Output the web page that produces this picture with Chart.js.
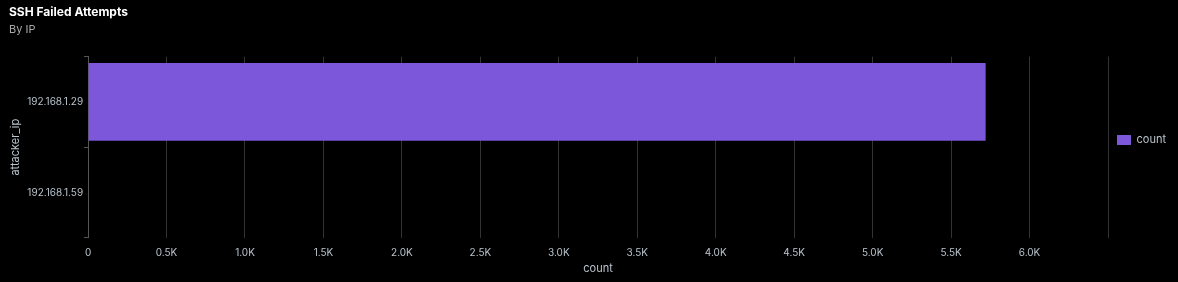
<!DOCTYPE html>
<html>
<head>
<meta charset="utf-8">
<script src="https://cdn.jsdelivr.net/npm/chart.js@4"></script>
<style>
  body { margin: 0; background: #000; }
  #wrap { width: 1178px; height: 282px; }
</style>
</head>
<body>
<div id="wrap"><canvas id="myChart"></canvas></div>
<script>
const categories = ['192.168.1.29', '192.168.1.59'];
const countValues = [5720, 0];
const seriesLabel = 'count';

const textColor = '#b9c3cc';
const gridColor = '#333333';

function formatK(value) {
  if (value === 0) return '0';
  if (value >= 6500) return ''; // dernière ligne sans libellé
  return (value / 1000).toFixed(1) + 'K';
}

new Chart(document.getElementById('myChart'), {
  type: 'bar',
  data: {
    labels: categories,
    datasets: [{
      label: seriesLabel,
      data: countValues,
      backgroundColor: '#7c57d9',
      borderWidth: 0,
      categoryPercentage: 1,
      barPercentage: 0.86
    }]
  },
  options: {
    indexAxis: 'y',
    responsive: true,
    maintainAspectRatio: false,
    animation: false,
    layout: { padding: { left: 9, right: 2, bottom: 2 } },
    font: { family: 'Inter', size: 11 },
    scales: {
      x: {
        min: 0,
        max: 6500,
        ticks: {
          stepSize: 500,
          color: textColor,
          font: { family: 'Inter', size: 10 },
          padding: 9,
          callback: formatK
        },
        grid: { color: gridColor, drawTicks: false },
        border: { display: false },
        title: {
          display: true,
          text: 'count',
          color: textColor,
          font: { family: 'Inter', size: 11, lineHeight: 0.2 },
          padding: { top: 0, bottom: 10 }
        }
      },
      y: {
        ticks: {
          color: textColor,
          font: { family: 'Inter', size: 10 },
          padding: 1
        },
        grid: { drawOnChartArea: false, color: '#555555', tickLength: 4 },
        border: { display: true, color: '#555555' },
        title: {
          display: true,
          text: 'attacker_ip',
          color: textColor,
          font: { family: 'Inter', size: 11 },
          padding: { top: 0, bottom: 4 }
        }
      }
    },
    plugins: {
      title: {
        display: true,
        text: 'SSH Failed Attempts',
        align: 'start',
        color: '#ffffff',
        font: { family: 'Inter', size: 12, weight: 'bold' },
        padding: { top: 5, bottom: 2 }
      },
      subtitle: {
        display: true,
        text: 'By IP',
        align: 'start',
        color: '#a8a8a8',
        font: { family: 'Inter', size: 11 },
        padding: { top: 2, bottom: 20 }
      },
      legend: {
        position: 'right',
        labels: {
          color: textColor,
          boxWidth: 14,
          boxHeight: 10,
          padding: 9,
          font: { family: 'Inter', size: 11 }
        }
      },
      tooltip: { enabled: false }
    }
  }
});
</script>
</body>
</html>
